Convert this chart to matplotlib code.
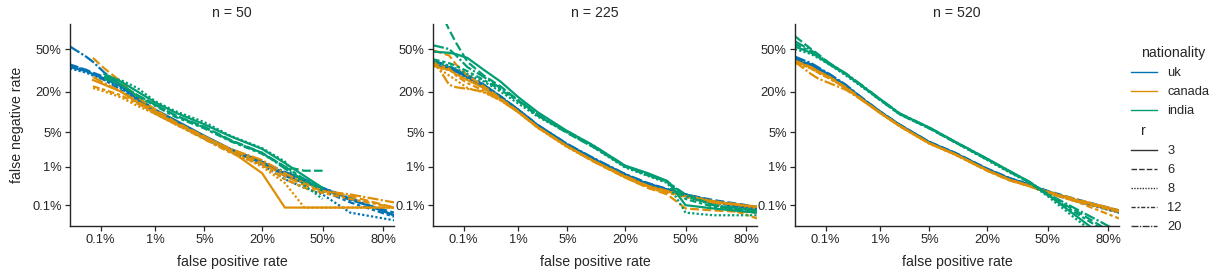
import numpy as np
import matplotlib
matplotlib.use("Agg")
import matplotlib.pyplot as plt
from matplotlib.lines import Line2D
from matplotlib.offsetbox import HPacker, DrawingArea, TextArea
from math import erfc, sqrt

plt.rcParams['font.family'] = ['Liberation Sans', 'DejaVu Sans']
INK = '#262626'
plt.rcParams['text.color'] = INK
plt.rcParams['axes.labelcolor'] = INK
plt.rcParams['xtick.color'] = INK
plt.rcParams['ytick.color'] = INK

nan = np.nan

# false positive rate grid (%) shared by every curve
fpr = [0.022, 0.05, 0.07, 0.12, 0.25, 0.5, 1, 2, 5, 10, 20, 30, 40, 50, 65, 84]

nationalities = ["uk", "canada", "india"]
r_values = [3, 6, 8, 12, 20]
panels = [50, 225, 520]

# false negative rate (%), one list per r
n50_uk = {
    3: [36, 33, 31, 28, 23, 16, 11.5, 8, 4.3, 2.4, 1.3, 0.6, 0.4, 0.3, 0.15, 0.05],
    6: [38, 34, 32, 29, 24, 16.5, 11, 7.5, 4.0, 2.2, 1.2, 0.65, 0.45, 0.28, 0.14, 0.06],
    8: [35, 32, 30, 27, 22, 15, 10.5, 7.2, 3.8, 2.1, 1.1, 0.5, 0.3, 0.2, 0.06, 0.035],
    12: [37, 34, 31, 27, 21, 14.5, 10, 7, 3.9, 2.3, 1.25, 0.7, 0.5, 0.25, 0.12, 0.045],
    20: [52, 44, 40, 32, 24, 17, 11, 7.7, 4.2, 2.3, 1.3, 0.75, 0.5, 0.3, 0.16, 0.05],
}
n50_canada = {
    3: [nan, nan, 27, 24, 20, 14.5, 10, 7, 4.0, 2.2, 0.7, 0.085, 0.085, 0.085, 0.085, 0.085],
    6: [nan, nan, 43, 35, 26, 17, 11.5, 7.5, 4.2, 2.3, 1.2, 0.6, 0.35, 0.25, 0.18, 0.085],
    8: [nan, nan, 22, 20, 17, 13, 10, 6.8, 3.8, 2.1, 1.0, 0.4, 0.085, 0.085, 0.085, 0.085],
    12: [nan, nan, 23, 21, 18, 14, 10.5, 7, 3.7, 2.0, 1.1, 0.5, 0.3, 0.22, 0.15, 0.085],
    20: [nan, nan, 29, 25, 20, 15, 11, 7.2, 4.1, 2.4, 1.4, 0.7, 0.4, 0.25, 0.2, 0.12],
}
n50_india = {
    3: [nan, nan, nan, 31, 26, 20, 14.5, 10.5, 6.8, 4.2, 2.4, 1.2, 0.6, 0.3, nan, nan],
    6: [nan, nan, nan, 30, 24, 18, 13.5, 9.5, 6.2, 3.6, 2.0, 1.0, 0.8, 0.8, nan, nan],
    8: [nan, nan, nan, 29, 27, 22, 15, 11, 7.4, 4.3, 2.5, 1.3, 0.35, 0.15, nan, nan],
    12: [nan, nan, nan, 28, 24, 17.5, 13, 9, 5.8, 3.4, 1.9, 1.0, 0.5, 0.25, nan, nan],
    20: [nan, nan, nan, 29, 24, 18, 13.5, 9.5, 6.0, 3.5, 2.0, 0.9, 0.45, 0.3, nan, nan],
}

n225_uk = {
    3: [38, 35, 33, 29, 23, 17, 11.2, 6.5, 2.9, 1.5, 0.65, 0.38, 0.27, 0.2, 0.13, 0.08],
    6: [40, 36, 34, 30, 24, 17.5, 11.5, 6.6, 3.0, 1.5, 0.66, 0.4, 0.28, 0.2, 0.14, 0.09],
    8: [37, 34, 32, 28, 22, 16.5, 11, 6.3, 2.8, 1.45, 0.63, 0.36, 0.25, 0.18, 0.12, 0.07],
    12: [39, 36, 33, 29, 23, 17, 11.3, 6.4, 2.9, 1.5, 0.64, 0.37, 0.26, 0.19, 0.12, 0.075],
    20: [41, 37, 34, 30, 24, 17.5, 11.5, 6.6, 3.0, 1.55, 0.67, 0.39, 0.27, 0.2, 0.13, 0.08],
}
n225_canada = {
    3: [37, 34, 31, 27, 22, 16, 10.5, 6.0, 2.7, 1.35, 0.58, 0.33, 0.24, 0.18, 0.12, 0.09],
    6: [49, 45, 38, 30, 23, 16.5, 10.8, 6.1, 2.7, 1.3, 0.55, 0.3, 0.2, 0.08, 0.07, 0.06],
    8: [38, 30, 27, 22, 19.5, 15.5, 10.5, 5.9, 2.6, 1.3, 0.55, 0.32, 0.24, 0.19, 0.13, 0.08],
    12: [39, 35, 30, 25, 20.5, 16, 10.6, 6.0, 2.65, 1.32, 0.56, 0.3, 0.22, 0.17, 0.11, 0.04],
    20: [42, 24, 22.5, 21.5, 20, 15.5, 10.7, 6.0, 2.7, 1.35, 0.6, 0.34, 0.25, 0.18, 0.13, 0.09],
}
n225_india = {
    3: [48, 47, 46, 43, 34, 26, 17, 10.5, 5.2, 2.8, 1.05, 0.7, 0.45, 0.1, 0.08, 0.06],
    6: [85, 65, 55, 40, 30, 23, 15.5, 9.5, 4.8, 2.6, 1.0, 0.65, 0.42, 0.2, 0.1, 0.06],
    8: [40, 37, 35, 31, 26, 20, 14, 9, 4.9, 2.6, 0.95, 0.6, 0.4, 0.06, 0.05, 0.05],
    12: [42, 39, 37, 33, 27, 21, 15, 9.3, 5.0, 2.7, 1.0, 0.62, 0.43, 0.15, 0.09, 0.07],
    20: [53, 50, 45, 36, 29, 22, 15.5, 9.8, 5.2, 2.8, 1.05, 0.66, 0.44, 0.18, 0.1, 0.07],
}

n520_uk = {
    3: [42, 37, 35, 30, 23, 16, 10.5, 6.6, 3.25, 1.95, 0.88, 0.52, 0.36, 0.24, 0.14, 0.065],
    6: [43, 38, 35, 31, 23.5, 16.5, 10.8, 6.7, 3.3, 2.0, 0.9, 0.53, 0.37, 0.25, 0.15, 0.07],
    8: [41, 37, 34, 30, 23, 16, 10.5, 6.5, 3.2, 1.9, 0.86, 0.5, 0.35, 0.23, 0.13, 0.06],
    12: [42, 38, 35, 30.5, 23, 16.2, 10.6, 6.6, 3.25, 1.93, 0.87, 0.51, 0.35, 0.24, 0.14, 0.06],
    20: [44, 39, 36, 31, 24, 16.5, 10.7, 6.6, 3.3, 1.95, 0.88, 0.52, 0.36, 0.24, 0.14, 0.065],
}
n520_canada = {
    3: [40, 36, 33, 29, 22, 15.5, 10.2, 6.3, 3.1, 1.85, 0.82, 0.48, 0.34, 0.23, 0.14, 0.07],
    6: [41, 36, 33, 29, 22.5, 15.8, 10.3, 6.4, 3.1, 1.85, 0.8, 0.46, 0.33, 0.22, 0.13, 0.065],
    8: [39, 35, 32, 28, 22, 15.5, 10.2, 6.3, 3.05, 1.8, 0.8, 0.47, 0.34, 0.23, 0.14, 0.06],
    12: [40, 35, 32, 28, 22, 15.6, 10.3, 6.3, 3.1, 1.82, 0.81, 0.47, 0.33, 0.22, 0.13, 0.04],
    20: [40, 31, 28, 25, 21, 15.5, 10.3, 6.4, 3.1, 1.85, 0.83, 0.48, 0.35, 0.24, 0.15, 0.07],
}
n520_india = {
    3: [52, 47, 44, 38, 31, 23, 16, 10, 6, 3.3, 1.5, 0.78, 0.43, 0.2, 0.05, 0.004],
    6: [60, 50, 46, 39, 31, 23, 15.5, 9.8, 5.8, 3.2, 1.45, 0.75, 0.42, 0.19, 0.07, 0.01],
    8: [50, 46, 43, 38, 30, 22.5, 15.5, 9.7, 5.8, 3.2, 1.4, 0.72, 0.4, 0.18, 0.04, 0.003],
    12: [54, 48, 44, 39, 31, 23, 15.8, 9.9, 5.9, 3.25, 1.45, 0.76, 0.42, 0.2, 0.06, 0.008],
    20: [56, 49, 45, 39, 31.5, 23.5, 16, 10.1, 6.0, 3.3, 1.5, 0.77, 0.43, 0.21, 0.08, 0.015],
}

curves = {
    50: [n50_uk, n50_canada, n50_india],
    225: [n225_uk, n225_canada, n225_india],
    520: [n520_uk, n520_canada, n520_india],
}

tick_vals = [0.001, 0.01, 0.05, 0.2, 0.5, 0.8]
tick_labels = ["0.1%", "1%", "5%", "20%", "50%", "80%"]

colors = ['#0173b2', '#de8f05', '#029e73']
dashes = {3: (None, None), 6: (4, 1.5), 8: (1, 1), 12: (3, 1.25, 1.5, 1.25), 20: (5, 1, 1, 1)}


# normal quantile / cdf for the probit (DET) axis
_a = [-3.969683028665376e+01, 2.209460984245205e+02, -2.759285104469687e+02,
      1.383577518672690e+02, -3.066479806614716e+01, 2.506628277459239e+00]
_b = [-5.447609879822406e+01, 1.615858368580409e+02, -1.556989798598866e+02,
      6.680131188771972e+01, -1.328068155288572e+01]
_c = [-7.784894002430293e-03, -3.223964580411365e-01, -2.400758277161838e+00,
      -2.549732539343734e+00, 4.374664141464968e+00, 2.938163982698783e+00]
_d = [7.784695709041462e-03, 3.224671290700398e-01, 2.445134137142996e+00,
      3.754408661907416e+00]


def probit(p):
    p = np.clip(np.asarray(p, dtype=float), 1e-12, 1 - 1e-12)
    with np.errstate(all='ignore'):
        q = p - 0.5
        r = q * q
        mid = (((((_a[0] * r + _a[1]) * r + _a[2]) * r + _a[3]) * r + _a[4]) * r + _a[5]) * q / \
              (((((_b[0] * r + _b[1]) * r + _b[2]) * r + _b[3]) * r + _b[4]) * r + 1)
        ql = np.sqrt(-2 * np.log(p))
        low = (((((_c[0] * ql + _c[1]) * ql + _c[2]) * ql + _c[3]) * ql + _c[4]) * ql + _c[5]) / \
              ((((_d[0] * ql + _d[1]) * ql + _d[2]) * ql + _d[3]) * ql + 1)
        qh = np.sqrt(-2 * np.log(1 - p))
        high = -(((((_c[0] * qh + _c[1]) * qh + _c[2]) * qh + _c[3]) * qh + _c[4]) * qh + _c[5]) / \
               ((((_d[0] * qh + _d[1]) * qh + _d[2]) * qh + _d[3]) * qh + 1)
    return np.where(p < 0.02425, low, np.where(p > 1 - 0.02425, high, mid))


_erfc = np.vectorize(erfc, otypes=[float])


def norm_cdf(z):
    return 0.5 * _erfc(-np.asarray(z, dtype=float) / sqrt(2))


fig = plt.figure(figsize=(12.22, 2.77), dpi=100)
W, H = 1222, 277
lefts = [70, 433, 795]
axes = []
x = np.array(fpr) / 100
for i, n in enumerate(panels):
    ax = fig.add_axes([lefts[i] / W, (H - 226) / H, 324 / W, 202 / H])
    axes.append(ax)
    for c, group in zip(colors, curves[n]):
        for r in r_values:
            ln, = ax.plot(x, np.array(group[r]) / 100, color=c, lw=1.6)
            if r != 3:
                ln.set_dashes(dashes[r])
    ax.set_xscale('function', functions=(probit, norm_cdf))
    ax.set_yscale('function', functions=(probit, norm_cdf))
    ax.set_xlim(0.00022, 0.84)
    ax.set_ylim(0.00023, 0.69)
    ax.set_xticks(tick_vals, tick_labels)
    ax.set_yticks(tick_vals[:5], tick_labels[:5])
    ax.minorticks_off()
    ax.tick_params(labelsize=9.3, length=3.5, width=0.9, pad=2.5)
    for s in ['top', 'right']:
        ax.spines[s].set_visible(False)
    for s in ['left', 'bottom']:
        ax.spines[s].set_linewidth(1.0)
        ax.spines[s].set_color(INK)
    ax.set_title(f"n = {n}", fontsize=10.2, pad=5)
    ax.set_xlabel("false positive rate", fontsize=10.2, labelpad=6)
axes[0].set_ylabel("false negative rate", fontsize=10.2, labelpad=6)

# legend with seaborn-like subtitles
handles = [Line2D([], [], visible=False)]
labels = ["nationality"]
for c, nat in zip(colors, nationalities):
    handles.append(Line2D([], [], color=c, lw=1.0))
    labels.append(nat)
handles.append(Line2D([], [], visible=False))
labels.append("r")
for r in r_values:
    h = Line2D([], [], color='#333333', lw=1.0)
    if r != 3:
        h.set_dashes(dashes[r])
    handles.append(h)
    labels.append(str(r))

leg = fig.legend(handles, labels, loc='upper left', bbox_to_anchor=(1126 / W, 1 - 41 / H),
                 frameon=False, fontsize=9.3, handlelength=2.0, handletextpad=0.8,
                 labelspacing=0.54, borderaxespad=0)
for hp in leg.findobj(HPacker):
    kids = hp.get_children()
    if len(kids) == 2 and isinstance(kids[0], DrawingArea) and isinstance(kids[1], TextArea):
        if not all(a.get_visible() for a in kids[0].get_children()):
            kids[0].set_width(0)
            for t in kids[1].get_children():
                t.set_size(10.2)

fig.savefig("out.png", dpi=100)
